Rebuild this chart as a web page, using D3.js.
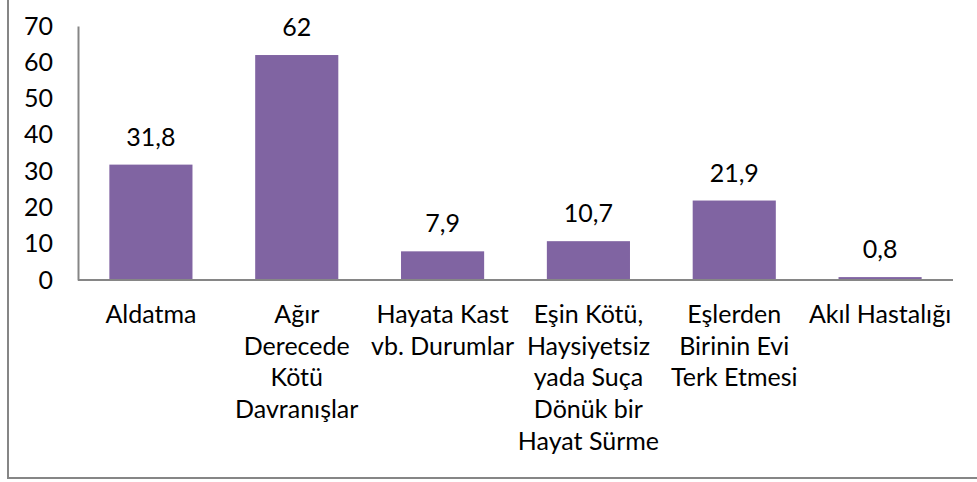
<!DOCTYPE html>
<head>
    <meta charset="utf-8">
    <title>Boşanma nedenleri</title>
    <script src="https://cdn.jsdelivr.net/npm/d3@7"></script>
    <style>
        body { margin: 0; background: #fff; }
        text { font-family: Lato, "Open Sans", sans-serif; fill: #000; }
    </style>
</head>
<body>
<div id="container"></div>
<script>

    // Data
    const categories = [
        "Aldatma",
        "Ağır Derecede Kötü Davranışlar",
        "Hayata Kast vb. Durumlar",
        "Eşin Kötü, Haysiyetsiz yada Suça Dönük bir Hayat Sürme",
        "Eşlerden Birinin Evi Terk Etmesi",
        "Akıl Hastalığı"
    ];
    const labelLines = [
        ["Aldatma"],
        ["Ağır", "Derecede", "Kötü", "Davranışlar"],
        ["Hayata Kast", "vb. Durumlar"],
        ["Eşin Kötü,", "Haysiyetsiz", "yada Suça", "Dönük bir", "Hayat Sürme"],
        ["Eşlerden", "Birinin Evi", "Terk Etmesi"],
        ["Akıl Hastalığı"]
    ];
    const values = [31.8, 62, 7.9, 10.7, 21.9, 0.8];
    const yTicks = [0, 10, 20, 30, 40, 50, 60, 70];

    // Dimensions
    const width = 977;
    const height = 482;
    const margin = {top: 26, right: 24, bottom: 202, left: 78};

    const svg = d3.select("#container")
        .append("svg")
        .attr("width", width)
        .attr("height", height);

    // Chart border (only left and bottom edges visible)
    svg.append("rect")
        .attr("x", 8)
        .attr("y", -5)
        .attr("width", width + 10)
        .attr("height", 483)
        .attr("fill", "none")
        .attr("stroke", "#868686")
        .attr("stroke-width", 2);

    const x = d3.scaleBand()
        .domain(categories)
        .range([margin.left, width - margin.right])
        .paddingInner(0.43)
        .paddingOuter(0.215);

    const y = d3.scaleLinear()
        .domain([0, 70])
        .range([height - margin.bottom, margin.top]);

    // Bars
    svg.selectAll(".bar")
        .data(values)
        .enter()
        .append("rect")
        .attr("class", "bar")
        .attr("x", (d, i) => x(categories[i]))
        .attr("y", d => y(d))
        .attr("width", x.bandwidth())
        .attr("height", d => y(0) - y(d))
        .attr("fill", "#8064A2");

    // Value labels
    svg.selectAll(".value")
        .data(values)
        .enter()
        .append("text")
        .attr("class", "value")
        .attr("x", (d, i) => x(categories[i]) + x.bandwidth() / 2)
        .attr("y", d => y(d) - 19)
        .attr("text-anchor", "middle")
        .attr("font-size", 25)
        .text(d => String(d).replace(".", ","));

    // Y axis
    const yAxis = svg.append("g")
        .attr("transform", `translate(${margin.left},0)`)
        .call(d3.axisLeft(y).tickValues(yTicks).tickSize(0).tickPadding(25));
    yAxis.select(".domain").attr("stroke", "#868686").attr("stroke-width", 2);
    yAxis.selectAll("text")
        .attr("font-size", 25)
        .attr("font-family", "Lato, 'Open Sans', sans-serif")
        .attr("fill", "#000");

    // X axis baseline
    svg.append("line")
        .attr("x1", margin.left)
        .attr("x2", width - margin.right)
        .attr("y1", y(0))
        .attr("y2", y(0))
        .attr("stroke", "#868686")
        .attr("stroke-width", 2);

    // Category labels
    const catLabels = svg.selectAll(".cat")
        .data(categories)
        .enter()
        .append("text")
        .attr("class", "cat")
        .attr("text-anchor", "middle")
        .attr("font-size", 25)
        .attr("x", d => x(d) + x.bandwidth() / 2)
        .attr("y", y(0) + 43);

    catLabels.each(function(d, i) {
        const t = d3.select(this);
        labelLines[i].forEach((line, j) => {
            t.append("tspan")
                .attr("x", x(d) + x.bandwidth() / 2)
                .attr("dy", j === 0 ? 0 : 31.7)
                .text(line);
        });
    });

</script>
</body>
